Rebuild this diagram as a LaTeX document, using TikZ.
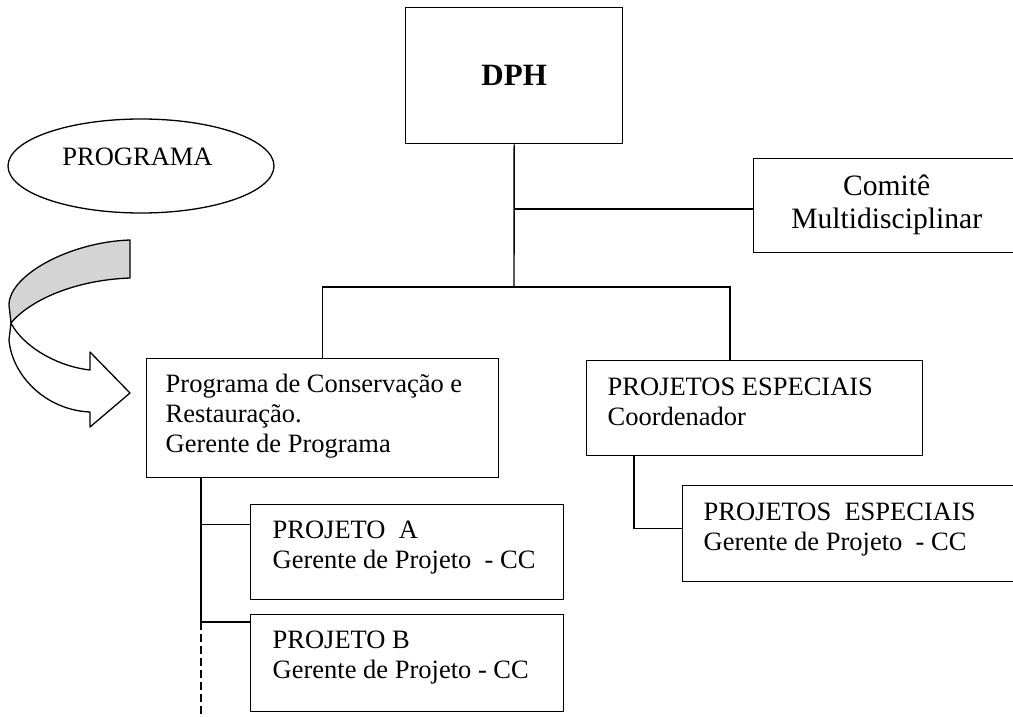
\documentclass[tikz,border=0pt]{standalone}
\usepackage{fontspec}
\setmainfont{Liberation Serif}
\usetikzlibrary{shapes.geometric}
\definecolor{ribbongray}{HTML}{D4D4D4}

\begin{document}
\begin{tikzpicture}[x=1pt, y=-1pt, line width=1.4pt, line join=miter,
  box/.style={draw, rectangle, inner sep=0pt, anchor=north west},
  lbl/.style={anchor=base west, inner sep=0pt, font=\fontsize{26.5}{30}\selectfont},
  ctr/.style={inner sep=0pt, align=center, font=\fontsize{29.6}{33}\selectfont},
  link/.style={draw, line width=1.4pt},
  ribbon/.style={draw, line width=1.3pt, line join=round}]

\useasboundingbox (0,0) rectangle (1013,717);

% ---- boxes ----
\node[box, minimum width=217pt, minimum height=136pt] (dph) at (405,7) {};
\node[box, minimum width=266pt, minimum height=94pt]  (com) at (753,158) {};
\node[box, minimum width=352pt, minimum height=119pt] (prog) at (146,358) {};
\node[box, minimum width=336pt, minimum height=95pt]  (pe)  at (586,360) {};
\node[box, minimum width=337pt, minimum height=96pt]  (pe2) at (682,485) {};
\node[box, minimum width=313pt, minimum height=95pt]  (pa)  at (250,504) {};
\node[box, minimum width=313pt, minimum height=97pt]  (pb)  at (250,614) {};

% ---- box texts ----
\node[inner sep=0pt, font=\bfseries\fontsize{31}{36}\selectfont] (dphtxt) at (dph.center) {DPH};
\node[ctr] (comtxt) at ([yshift=1pt]com.center) {Comitê\\Multidisciplinar};

\node[lbl] (prog1) at (165,392) {Programa de Conservação e};
\node[lbl] (prog2) at (165,422) {Restauração.};
\node[lbl] (prog3) at (165,452) {Gerente de Programa};

\node[lbl] (pe1) at (607,395) {PROJETOS ESPECIAIS};
\node[lbl] (pe1b) at (607,425) {Coordenador};

\node[lbl] (pe21) at (703,520) {PROJETOS\ \ ESPECIAIS};
\node[lbl] (pe22) at (703,550) {Gerente de Projeto\ \ - CC};

\node[lbl] (pa1) at (272,538) {PROJETO\ \ A};
\node[lbl] (pa2) at (272,568) {Gerente de Projeto\ \ - CC};

\node[lbl] (pb1) at (272,648) {PROJETO B};
\node[lbl] (pb2) at (272,678) {Gerente de Projeto - CC};

% ---- ellipse ----
\node[draw, ellipse, minimum width=266pt, minimum height=94pt, inner sep=0pt, line width=1.3pt] (ell) at (141,166) {};
\node[anchor=base, inner sep=0pt, font=\fontsize{26.5}{30}\selectfont] (elltxt) at (137.5,165) {PROGRAMA};

% ---- connectors ----
\coordinate (bus) at (514,287);
\coordinate (cj) at (514,209);
\draw[link] (dph.south) -- (bus);
\draw[link] (cj) -- (cj -| com.west);
\draw[link] (prog.north) |- (bus) -| ([xshift=144pt]pe.north west);

\coordinate (pj) at ([xshift=55pt]prog.south west);
\coordinate (pbj) at ([yshift=-8pt]pb.north west);
\coordinate (pend) at (201,717);
\draw[link] (pj) |- ([yshift=27.5pt]pa.west);
\draw[link] (pj) |- (pbj);
\draw[link, dash pattern=on 8pt off 4pt] (pj |- pbj) -- (pend);

\draw[link] ([xshift=48pt]pe.south west) |- ([yshift=5pt]pe2.west);

% ---- curved ribbon arrow ----
\path[ribbon, fill=white]
  (11,323) -- (9,340) .. controls (12,375) and (45,410) .. (90,412)
  -- (90,427) -- (130,393) -- (90,352) -- (90,370)
  .. controls (55,366) and (22,345) .. (11,323) -- cycle;
\path[ribbon, fill=ribbongray]
  (130,240) .. controls (70,242) and (9,275) .. (9,305)
  -- (11,323) .. controls (30,300) and (75,280) .. (130,278) -- cycle;

\end{tikzpicture}
\end{document}
